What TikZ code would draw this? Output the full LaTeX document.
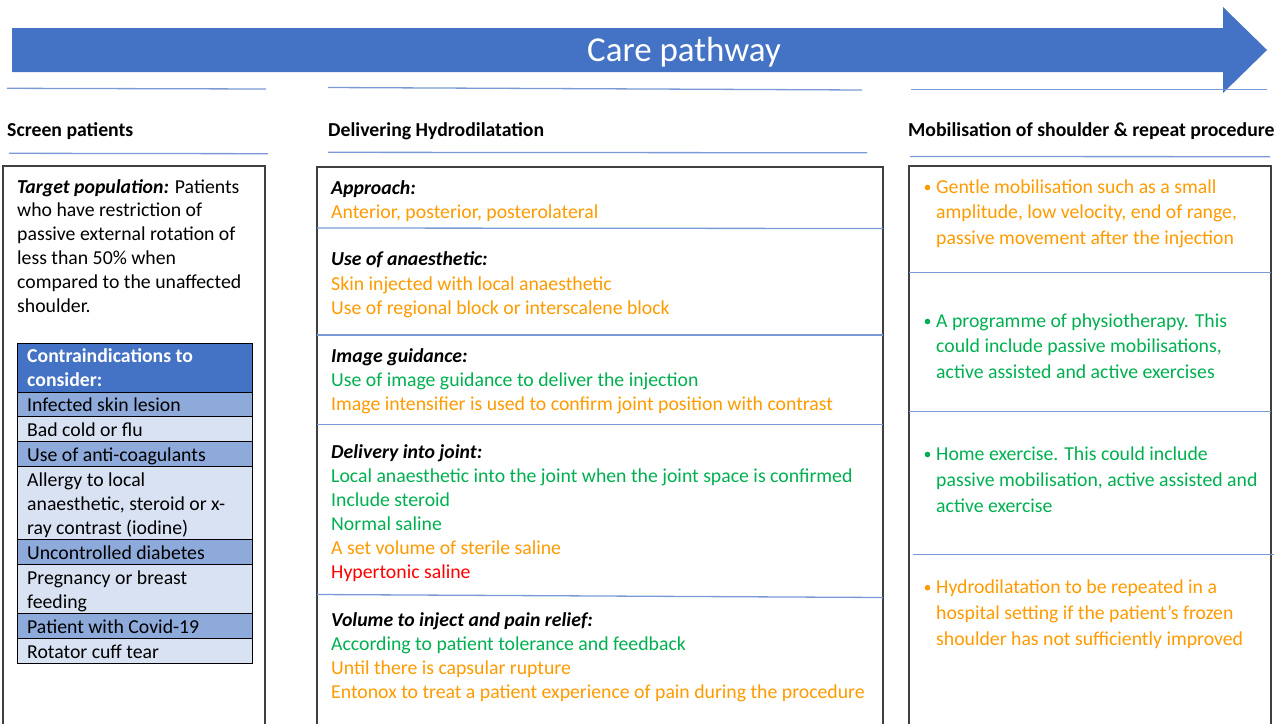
\documentclass[tikz,border=0pt]{standalone}
\usepackage{fontspec}
\setmainfont{Carlito}
\definecolor{abl}{HTML}{4472C4}
\definecolor{lnb}{HTML}{7A9AD6}
\definecolor{dkr}{HTML}{8EAADB}
\definecolor{ltr}{HTML}{D9E2F3}
\definecolor{org}{HTML}{FF9A00}
\definecolor{grn}{HTML}{00B050}
\definecolor{rd}{HTML}{FF0000}
\definecolor{bdr}{HTML}{404040}
\newcommand\fsz{\fontsize{19.75pt}{24pt}\selectfont}
\tikzset{
  txt/.style={anchor=base west, inner sep=0pt, font=\fsz, yshift=-1.3pt},
  hd/.style={txt, font=\fsz\bfseries},
  sub/.style={txt, font=\fsz\bfseries\itshape},
  og/.style={txt, text=org},
  gn/.style={txt, text=grn},
  rdt/.style={txt, text=rd},
  sep/.style={draw=lnb, line width=1.3pt},
  colbox/.style={draw=bdr, line width=1.6pt},
  cell/.style={draw=black, line width=0.9pt},
}
\begin{document}
\begin{tikzpicture}[x=1pt,y=-1pt]
\useasboundingbox (0,0) rectangle (1276,723);
% arrow
\fill[abl] (12,28) -- (1223,28) -- (1223,7) -- (1267,50) -- (1223,93) -- (1223,72) -- (12,72) -- cycle;
\node[anchor=base, inner sep=0pt, text=white, font=\fontsize{35pt}{40pt}\selectfont] (title) at (684,61) {Care pathway};
% separator lines
\draw[sep] (7,88.3) -- (266,89);
\draw[sep] (328,87.5) -- (862,90);
\draw[sep] (911,89.3) -- (1267,89.3);
\draw[sep] (9,153.3) -- (268,153.7);
\draw[sep] (328,152.3) -- (867,152.8);
\draw[sep] (910,156.5) -- (1270,156.7);
% headings
\node[hd] (h1) at (7,135) {Screen patients};
\node[hd] (h2) at (328,135) {Delivering Hydrodilatation};
\node[hd] (h3) at (908,135) {Mobilisation of shoulder \& repeat procedure};
% column boxes
\draw[colbox] (3,735) -- (3,165.7) -- (265,165.7) -- (265,735);
\draw[colbox] (317,735) -- (317,167) -- (883,167) -- (883,735);
\draw[colbox] (909,735) -- (909,165.7) -- (1271,165.7) -- (1271,735);
% left column text
\node[txt] (l1) at (17,191.8) {\textbf{\textit{Target population:}} Patients};
\node[txt] (l2) at (17,215.5) {who have restriction of};
\node[txt] (l3) at (17,239.5) {passive external rotation of};
\node[txt] (l4) at (17,263.3) {less than 50\% when};
\node[txt] (l5) at (17,287.4) {compared to the unaffected};
\node[txt] (l6) at (17,311.5) {shoulder.};
% table
\filldraw[cell, fill=abl] (17,343) rectangle (252,392);
\filldraw[cell, fill=dkr] (17,392) rectangle (252,416.5);
\filldraw[cell, fill=ltr] (17,416.5) rectangle (252,441.5);
\filldraw[cell, fill=dkr] (17,441.5) rectangle (252,466.5);
\filldraw[cell, fill=ltr] (17,466.5) rectangle (252,539.3);
\filldraw[cell, fill=dkr] (17,539.3) rectangle (252,564.3);
\filldraw[cell, fill=ltr] (17,564.3) rectangle (252,613.3);
\filldraw[cell, fill=dkr] (17,613.3) rectangle (252,638.3);
\filldraw[cell, fill=ltr] (17,638.3) rectangle (252,663.3);
\node[txt, text=white, font=\fsz\bfseries] (c0a) at (27,361.5) {Contraindications to};
\node[txt, text=white, font=\fsz\bfseries] (c0b) at (27,385.3) {consider:};
\node[txt] (c1) at (27,410.5) {Infected skin lesion};
\node[txt] (c2) at (27,435.3) {Bad cold or flu};
\node[txt] (c3) at (27,460.5) {Use of anti-coagulants};
\node[txt] (c4a) at (27,485.5) {Allergy to local};
\node[txt] (c4b) at (27,509.5) {anaesthetic, steroid or x-};
\node[txt] (c4c) at (27,533.5) {ray contrast (iodine)};
\node[txt] (c5) at (27,558.5) {Uncontrolled diabetes};
\node[txt] (c6a) at (27,583) {Pregnancy or breast};
\node[txt] (c6b) at (27,607) {feeding};
\node[txt] (c7) at (27,632) {Patient with Covid-19};
\node[txt] (c8) at (27,657) {Rotator cuff tear};
% middle column separators
\draw[sep] (317,228) -- (883,228.5);
\draw[sep] (317,335) -- (883,335);
\draw[sep] (317,424.5) -- (883,424.5);
\draw[sep] (317,594.5) -- (883,597.5);
% middle column text
\node[sub] (m1) at (331,193) {Approach:};
\node[og] (m1a) at (331,217) {Anterior, posterior, posterolateral};
\node[sub] (m2) at (331,264.5) {Use of anaesthetic:};
\node[og] (m2a) at (331,289) {Skin injected with local anaesthetic};
\node[og] (m2b) at (331,313) {Use of regional block or interscalene block};
\node[sub] (m3) at (331,361) {Image guidance:};
\node[gn] (m3a) at (331,385) {Use of image guidance to deliver the injection};
\node[og] (m3b) at (331,409) {Image intensifier is used to confirm joint position with contrast};
\node[sub] (m4) at (331,456.7) {Delivery into joint:};
\node[gn] (m4a) at (331,480.7) {Local anaesthetic into the joint when the joint space is confirmed};
\node[gn] (m4b) at (331,504.8) {Include steroid};
\node[gn] (m4c) at (331,528.8) {Normal saline};
\node[og] (m4d) at (331,552.7) {A set volume of sterile saline};
\node[rdt] (m4e) at (331,576.7) {Hypertonic saline};
\node[sub] (m5) at (331,625) {Volume to inject and pain relief:};
\node[gn] (m5a) at (331,648.7) {According to patient tolerance and feedback};
\node[og] (m5b) at (331,672.7) {Until there is capsular rupture};
\node[og] (m5c) at (331,696.7) {Entonox to treat a patient experience of pain during the procedure};
% right column separators
\draw[sep] (909,272.3) -- (1271,272.3);
\draw[sep] (909,411.7) -- (1271,411.7);
\draw[sep] (913,554.5) -- (1274,554.5);
% right column bullets and text
\fill[org] (927.5,187.5) circle (2.8);
\node[og] (r1a) at (936,191.8) {Gentle mobilisation such as a small};
\node[og] (r1b) at (936,217.6) {amplitude, low velocity, end of range,};
\node[og] (r1c) at (936,243.4) {passive movement after the injection};
\fill[grn] (927.5,321.5) circle (2.8);
\node[gn] (r2a) at (936,325.8) {A programme of physiotherapy. This};
\node[gn] (r2b) at (936,351.6) {could include passive mobilisations,};
\node[gn] (r2c) at (936,377.4) {active assisted and active exercises};
\fill[grn] (927.5,454.5) circle (2.8);
\node[gn] (r3a) at (936,459) {Home exercise. This could include};
\node[gn] (r3b) at (936,485) {passive mobilisation, active assisted and};
\node[gn] (r3c) at (936,511) {active exercise};
\fill[org] (927.5,587.7) circle (2.8);
\node[og] (r4a) at (936,592) {Hydrodilatation to be repeated in a};
\node[og] (r4b) at (936,618) {hospital setting if the patient’s frozen};
\node[og] (r4c) at (936,644) {shoulder has not sufficiently improved};
\end{tikzpicture}
\end{document}
